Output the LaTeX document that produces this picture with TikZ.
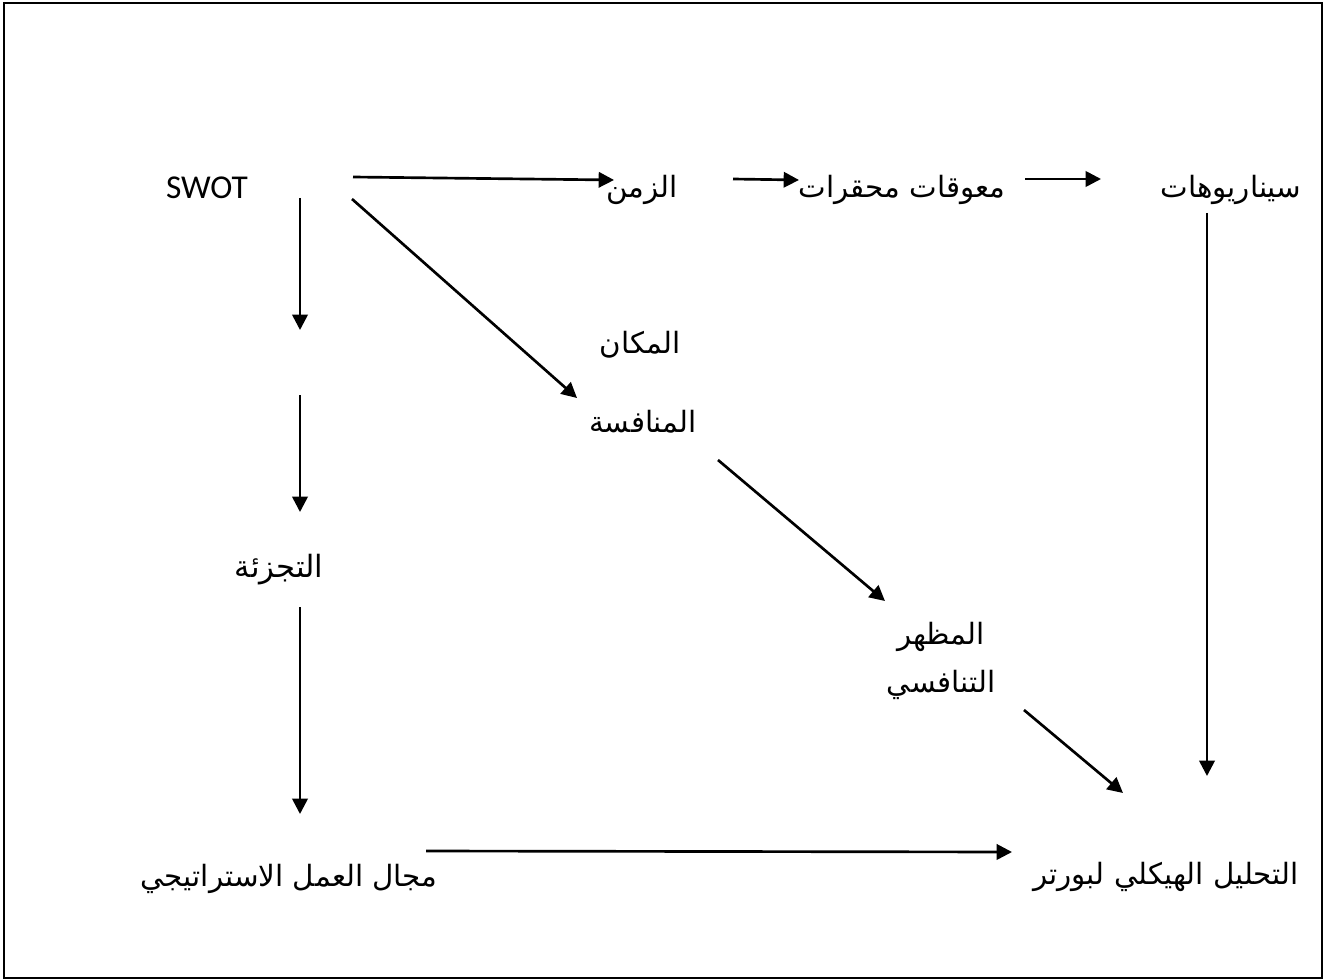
\documentclass[tikz,border=0pt]{standalone}
\usepackage{fontspec}
\usetikzlibrary{arrows.meta}
\setmainfont{Carlito}
\newfontfamily\arabicfont[Script=Arabic]{DejaVu Sans}
\TeXXeTstate=1
\newcommand{\ar}[1]{{\arabicfont\beginR #1\endR}}
\tikzset{
  lbl/.style={inner sep=0pt, font=\fontsize{22}{36}\selectfont},
  flow/.style={line width=2pt, -{Triangle[length=11.5pt,width=11.5pt]}},
}
\begin{document}
\begin{tikzpicture}[x=0.75pt,y=-0.75pt]
  \useasboundingbox (0,0) rectangle (1326,980);
  \draw[line width=1.4pt] (4,3) rectangle (1322,978);

  % labels
  \node[lbl, font=\fontsize{25}{30}\selectfont] (swot) at (207,188) {SWOT};
  \node[lbl] (zaman) at (642,190) {\ar{الزمن}};
  \node[lbl] (mowq) at (902,190) {\ar{معوقات محقرات}};
  \node[lbl] (scen) at (1231,190) {\ar{سيناريوهات}};
  \node[lbl] (makan) at (640,345) {\ar{المكان}};
  \node[lbl] (monaf) at (643,422) {\ar{المنافسة}};
  \node[lbl, font=\fontsize{23}{36}\selectfont] (tajz) at (279,570) {\ar{التجزئة}};
  \node[lbl, align=center] (mazhar) at (941,661) {\ar{المظهر}\\\ar{التنافسي}};
  \node[lbl] (majal) at (289,879) {\ar{مجال العمل الاستراتيجي}};
  \node[lbl] (porter) at (1166,877) {\ar{التحليل الهيكلي لبورتر}};

  % arrow end points
  \coordinate (a1) at (353,177); \coordinate (b1) at (614,180);
  \coordinate (a2) at (733,179); \coordinate (b2) at (799,180);
  \coordinate (a3) at (1025,179); \coordinate (b3) at (1101,179);
  \coordinate (a4) at (1207,213); \coordinate (b4) at (1207,776);
  \coordinate (a5) at (300,198); \coordinate (b5) at (300,330);
  \coordinate (a6) at (300,395); \coordinate (b6) at (300,512);
  \coordinate (a7) at (300,607); \coordinate (b7) at (300,814);
  \coordinate (a8) at (426,851); \coordinate (b8) at (1012,852);
  \coordinate (a9) at (352,199); \coordinate (b9) at (577,398);
  \coordinate (a10) at (718,460); \coordinate (b10) at (885,601);
  \coordinate (a11) at (1024,710); \coordinate (b11) at (1123,793);

  % connectors
  \draw[flow] (a1) -- (b1);
  \draw[flow] (a2) -- (b2);
  \draw[flow] (a3) -- (b3);
  \draw[flow] (a4) -- (b4);
  \draw[flow] (a5) -- (b5);
  \draw[flow] (a6) -- (b6);
  \draw[flow] (a7) -- (b7);
  \draw[flow] (a8) -- (b8);
  \draw[flow] (a9) -- (b9);
  \draw[flow] (a10) -- (b10);
  \draw[flow] (a11) -- (b11);
\end{tikzpicture}
\end{document}
